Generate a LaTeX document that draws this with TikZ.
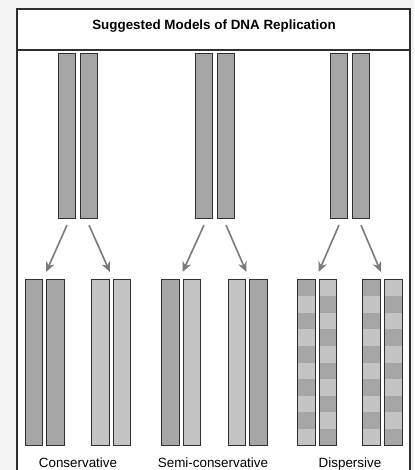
\documentclass[tikz,border=0pt]{standalone}
\usepackage{fontspec}
\setmainfont{Liberation Sans}
\usetikzlibrary{arrows.meta, calc}
\definecolor{pageGray}{HTML}{F3F3F3}
\definecolor{frameDark}{HTML}{2E2E2E}
\definecolor{strandEdge}{HTML}{303030}
\definecolor{strandDark}{HTML}{A6A6A6}
\definecolor{strandLight}{HTML}{C4C4C4}
\definecolor{arrowGray}{HTML}{7A7A7A}
\tikzset{
  frame/.style={frameDark, line width=2pt},
  strand/.style={rectangle, draw=strandEdge, line width=1.2pt, inner sep=0pt,
                 minimum width=17.5pt, minimum height=165pt},
  strandOld/.style={strand, fill=strandDark},
  strandNew/.style={strand, fill=strandLight},
  strandMix/.style={strand, fill=strandLight, path picture={
      \foreach \k in {#1}
        \fill[strandDark]
          ($(path picture bounding box.north west)!\k/10!(path picture bounding box.south west)$)
          rectangle
          ($(path picture bounding box.north east)!\k/10+0.1!(path picture bounding box.south east)$);
    }},
  daughter/.style={minimum height=166pt},
  arrowG/.style={-{Stealth[length=10pt, width=9pt]}, color=arrowGray, line width=1.6pt},
  modelName/.style={anchor=base},
}

\begin{document}
\begin{tikzpicture}[x=1pt, y=-1pt, font=\fontsize{13.4}{16}\selectfont]
  \useasboundingbox (0,0) rectangle (414,470);
  \fill[pageGray] (0,0) rectangle (414,470);
  \fill[white] (17,9) rectangle (410,470);
  \draw[frame] (17,470) -- (17,9) -- (410,9) -- (410,470);
  \draw[frame] (17,50) -- (410,50);
  \node[font=\bfseries\fontsize{13.4}{16}\selectfont, anchor=base] (title) at (214,30)
    {Suggested Models of DNA Replication};

  % parent double strands
  \foreach \g/\cx in {1/78, 2/215, 3/350} {
    \node[strandOld] (top\g a) at (\cx-11,136) {};
    \node[strandOld] (top\g b) at (\cx+11,136) {};
  }

  % conservative
  \node[strandOld, daughter] (cons1) at (34,362.5) {};
  \node[strandOld, daughter] (cons2) at (55.5,362.5) {};
  \node[strandNew, daughter] (cons3) at (100.5,362.5) {};
  \node[strandNew, daughter] (cons4) at (122,362.5) {};

  % semi-conservative
  \node[strandOld, daughter] (semi1) at (170.5,362.5) {};
  \node[strandNew, daughter] (semi2) at (192,362.5) {};
  \node[strandNew, daughter] (semi3) at (237,362.5) {};
  \node[strandOld, daughter] (semi4) at (258.5,362.5) {};

  % dispersive
  \node[strandMix={0,2,4,6,8}, daughter] (disp1) at (306.5,362.5) {};
  \node[strandMix={1,3,5,7,9}, daughter] (disp2) at (328,362.5) {};
  \node[strandMix={0,2,4,6,8}, daughter] (disp3) at (371.5,362.5) {};
  \node[strandMix={1,3,5,7,9}, daughter] (disp4) at (393.5,362.5) {};

  \foreach \g/\m in {1/cons, 2/semi, 3/disp} {
    \draw[arrowG] ([yshift=-6]top\g a.south) -- ([yshift=7]\m2.north west);
    \draw[arrowG] ([yshift=-6]top\g b.south) -- ([yshift=7]\m3.north east);
  }

  \node[modelName] (consName) at (78,467) {Conservative};
  \node[modelName] (semiName) at (213,467) {Semi-conservative};
  \node[modelName] (dispName) at (350,467) {Dispersive};
\end{tikzpicture}
\end{document}
